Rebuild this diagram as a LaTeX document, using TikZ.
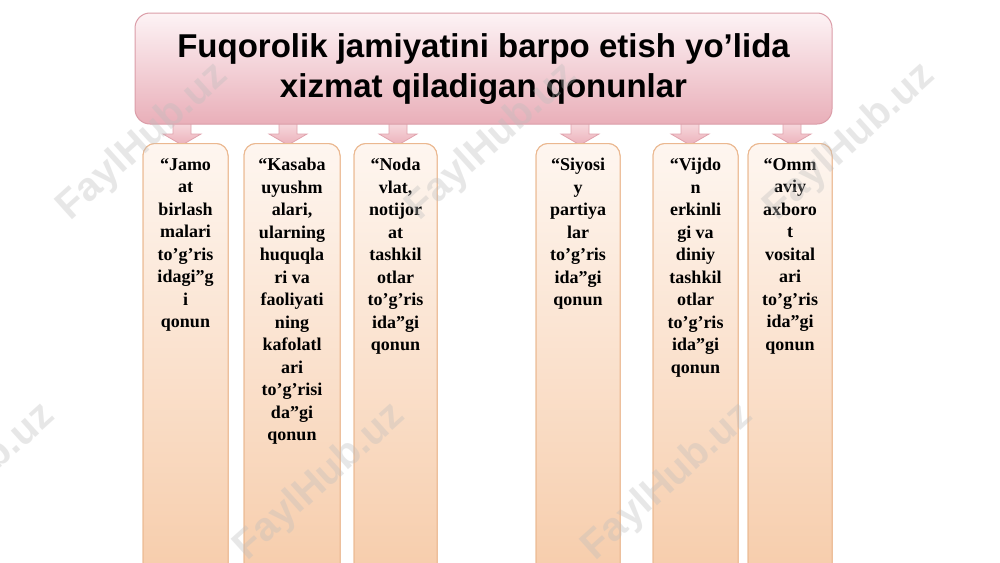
\documentclass[tikz,border=0pt]{standalone}
\usepackage{fontspec}
\setmainfont{Liberation Serif}
\newfontfamily\titlefont{Liberation Sans}
\definecolor{titletop}{HTML}{FDF3F5}
\definecolor{titlebot}{HTML}{E9AFB9}
\definecolor{titledraw}{HTML}{DB9DA8}
\definecolor{coltop}{HTML}{FEF6F0}
\definecolor{colbot}{HTML}{F6C9A5}
\definecolor{coldraw}{HTML}{EBB890}
\definecolor{arrtop}{HTML}{F9E0E4}
\definecolor{arrbot}{HTML}{ECB1BA}
\definecolor{arrdraw}{HTML}{E0A3AD}
\definecolor{wmark}{HTML}{BDBDBD}
\begin{document}
\begin{tikzpicture}[x=1pt,y=-1pt,
  titlebox/.style={draw=titledraw, line width=1pt, rounded corners=15pt,
    top color=titletop, bottom color=titlebot, minimum width=697pt, minimum height=111pt, inner sep=0pt},
  colbox/.style={draw=coldraw, line width=1pt, rounded corners=12pt,
    top color=coltop, bottom color=colbot, minimum height=470pt, anchor=north, inner sep=0pt},
  coltext/.style={font=\bfseries\fontsize{18}{22.5}\selectfont, align=center, anchor=north, inner sep=0pt},
  titletext/.style={font=\titlefont\bfseries\fontsize{33}{40}\selectfont, align=center, anchor=north, inner sep=0pt},
  arrowsty/.style={draw=arrdraw, line width=0.8pt, top color=arrtop, bottom color=arrbot},
  blockarrow/.pic={\draw[arrowsty] (-9,-24) -- (9,-24) -- (9,-9) -- (19,-9) -- (0,2) -- (-19,-9) -- (-9,-9) -- cycle;},
  wm/.style={font=\titlefont\bfseries\fontsize{40}{40}\selectfont, text=wmark, opacity=0.35, rotate=42, inner sep=0pt}
]
\useasboundingbox (0,0) rectangle (1000,562);
\clip (0,0) rectangle (1000,562);
\fill[white] (0,0) rectangle (1000,562);

% column boxes (named)
\node[colbox, minimum width=85pt] (c1) at (185.5,143) {};
\node[colbox, minimum width=96pt] (c2) at (292,143) {};
\node[colbox, minimum width=83pt] (c3) at (395.5,143) {};
\node[colbox, minimum width=84pt] (c4) at (578,143) {};
\node[colbox, minimum width=85pt] (c5) at (695.5,143) {};
\node[colbox, minimum width=84pt] (c6) at (790,143) {};

% arrows from title to columns
\coordinate (a1) at ([xshift=-3.5pt]c1.north);
\coordinate (a2) at ([xshift=-4pt]c2.north);
\coordinate (a3) at ([xshift=2.5pt]c3.north);
\coordinate (a4) at ([xshift=2pt]c4.north);
\coordinate (a5) at ([xshift=-5.5pt]c5.north);
\coordinate (a6) at ([xshift=2pt]c6.north);
\foreach \a in {a1,a2,a3,a4,a5,a6}{\pic at (\a) {blockarrow};}

% redraw columns on top of arrow tips
\node[colbox, minimum width=85pt] at (185.5,143) {};
\node[colbox, minimum width=96pt] at (292,143) {};
\node[colbox, minimum width=83pt] at (395.5,143) {};
\node[colbox, minimum width=84pt] at (578,143) {};
\node[colbox, minimum width=85pt] at (695.5,143) {};
\node[colbox, minimum width=84pt] at (790,143) {};

% title
\node[titlebox] (title) at (483.5,68.5) {};
\node[titletext] (tt) at (483.5,33) {Fuqorolik jamiyatini barpo etish yo’lida\\xizmat qiladigan qonunlar};

% column texts
\node[coltext] (t1) at ([yshift=-15pt]c1.north) {“Jamo\\at\\birlash\\malari\\to’g’ris\\idagi”g\\i\\qonun};
\node[coltext] (t2) at ([yshift=-15pt]c2.north) {“Kasaba\\uyushm\\alari,\\ularning\\huquqla\\ri va\\faoliyati\\ning\\kafolatl\\ari\\to’g’risi\\da”gi\\qonun};
\node[coltext] (t3) at ([yshift=-15pt]c3.north) {“Noda\\vlat,\\notijor\\at\\tashkil\\otlar\\to’g’ris\\ida”gi\\qonun};
\node[coltext] (t4) at ([yshift=-15pt]c4.north) {“Siyosi\\y\\partiya\\lar\\to’g’ris\\ida”gi\\qonun};
\node[coltext] (t5) at ([yshift=-15pt]c5.north) {“Vijdo\\n\\erkinli\\gi va\\diniy\\tashkil\\otlar\\to’g’ris\\ida”gi\\qonun};
\node[coltext] (t6) at ([yshift=-15pt]c6.north) {“Omm\\aviy\\axboro\\t\\vosital\\ari\\to’g’ris\\ida”gi\\qonun};

% watermarks
\node[wm] (w1) at (143,142) {FaylHub.uz};
\node[wm] (w2) at (492,142) {FaylHub.uz};
\node[wm] (w3) at (850,142) {FaylHub.uz};
\node[wm] (w4) at (-30,482) {FaylHub.uz};
\node[wm] (w5) at (320,482) {FaylHub.uz};
\node[wm] (w6) at (668,482) {FaylHub.uz};
\end{tikzpicture}
\end{document}
